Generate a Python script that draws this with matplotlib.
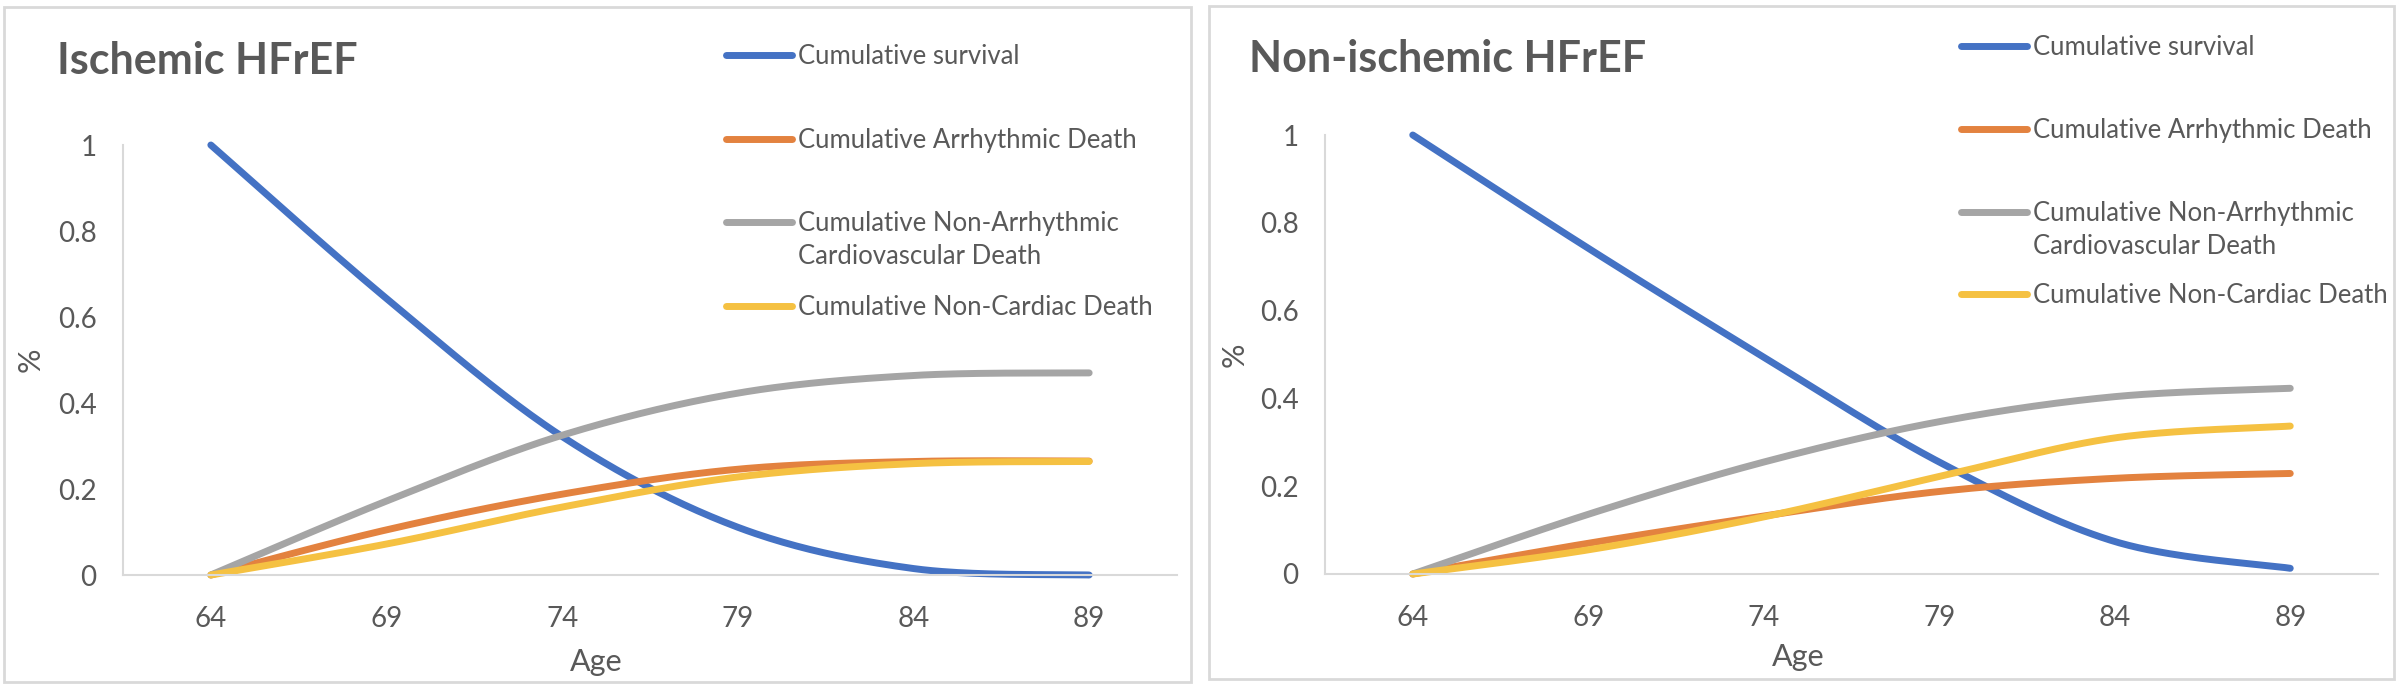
import numpy as np
import matplotlib
matplotlib.use('Agg')
import matplotlib.pyplot as plt
from matplotlib.patches import Rectangle
from matplotlib.lines import Line2D

plt.rcParams['font.family'] = ['Lato', 'DejaVu Sans']

ages = [64, 69, 74, 79, 84, 89]
series_names = ['Cumulative survival', 'Cumulative Arrhythmic Death',
                'Cumulative Non-Arrhythmic\nCardiovascular Death', 'Cumulative Non-Cardiac Death']
colors = ['#4472C4', '#E3823F', '#A5A5A5', '#F5C142']

# Ischemic HFrEF
isch_survival = [1.0, 0.643, 0.322, 0.111, 0.015, 0.0]
isch_arrhythmic = [0.0, 0.105, 0.188, 0.246, 0.264, 0.265]
isch_non_arrhythmic_cv = [0.0, 0.172, 0.325, 0.423, 0.464, 0.47]
isch_non_cardiac = [0.0, 0.072, 0.158, 0.228, 0.259, 0.264]

# Non-ischemic HFrEF
nonisch_survival = [1.0, 0.742, 0.494, 0.255, 0.074, 0.013]
nonisch_arrhythmic = [0.0, 0.070, 0.132, 0.188, 0.218, 0.229]
nonisch_non_arrhythmic_cv = [0.0, 0.136, 0.255, 0.347, 0.404, 0.423]
nonisch_non_cardiac = [0.0, 0.055, 0.130, 0.222, 0.310, 0.337]

W, H = 2400, 688
TXT = '#595959'
AXC = '#D9D9D9'
LW = 5.0


def smooth(y, n=40):
    # excel style smoothed line (bezier with catmull-rom control points)
    y = np.asarray(y, float)
    x = np.arange(len(y), dtype=float)
    px = np.concatenate([[x[0]], x, [x[-1]]])
    py = np.concatenate([[y[0]], y, [y[-1]]])
    xs, ys = [], []
    t = np.linspace(0, 1, n)
    for i in range(len(y) - 1):
        p0 = np.array([px[i], py[i]])
        p1 = np.array([px[i + 1], py[i + 1]])
        p2 = np.array([px[i + 2], py[i + 2]])
        p3 = np.array([px[i + 3], py[i + 3]])
        c1 = p1 + (p2 - p0) / 6
        c2 = p2 - (p3 - p1) / 6
        b = ((1 - t) ** 3)[:, None] * p1 + (3 * (1 - t) ** 2 * t)[:, None] * c1 \
            + (3 * (1 - t) * t ** 2)[:, None] * c2 + (t ** 3)[:, None] * p2
        xs.append(b[:, 0])
        ys.append(b[:, 1])
    return np.concatenate(xs), np.concatenate(ys)


fig = plt.figure(figsize=(W / 100, H / 100), dpi=100)


def box(x0, y0, x1, y1):
    fig.patches.append(Rectangle((x0 / W, 1 - y1 / H), (x1 - x0) / W, (y1 - y0) / H,
                                 transform=fig.transFigure, fill=False,
                                 edgecolor=AXC, lw=2))


def panel(rect, title, title_xy, data, leg_x, leg_rows, age_xy, pct_xy):
    l, t, r, b = rect
    ax = fig.add_axes([l / W, 1 - b / H, (r - l) / W, (b - t) / H])
    for vals, c in zip(data, colors):
        xs, ys = smooth(vals)
        ax.plot(xs, ys, color=c, lw=LW, solid_capstyle='round', clip_on=False)
    ax.set_xlim(-0.5, len(ages) - 0.5)
    ax.set_ylim(0, 1)
    ax.set_xticks(range(len(ages)))
    ax.set_xticklabels([str(a) for a in ages])
    ax.set_yticks([0, 0.2, 0.4, 0.6, 0.8, 1.0])
    ax.set_yticklabels(['0', '0.2', '0.4', '0.6', '0.8', '1'])
    ax.tick_params(length=0, labelsize=20, labelcolor=TXT)
    ax.tick_params(axis='y', pad=19)
    ax.tick_params(axis='x', pad=22)
    for s in ['top', 'right']:
        ax.spines[s].set_visible(False)
    for s in ['left', 'bottom']:
        ax.spines[s].set_color(AXC)
        ax.spines[s].set_linewidth(1.5)

    fig.text(title_xy[0] / W, 1 - title_xy[1] / H, title, fontsize=31,
             fontweight='bold', color=TXT, va='center', ha='left')
    fig.text(age_xy[0] / W, 1 - age_xy[1] / H, 'Age', fontsize=22, color=TXT,
             ha='center', va='center')
    fig.text(pct_xy[0] / W, 1 - pct_xy[1] / H, '%', fontsize=22, color=TXT,
             ha='center', va='center', rotation=90)

    # legend: handle on the first text line, extra lines below it
    for name, c, ry in zip(series_names, colors, leg_rows):
        fig.add_artist(Line2D([leg_x[0] / W, leg_x[1] / W], [1 - ry / H, 1 - ry / H],
                              transform=fig.transFigure, color=c, lw=LW,
                              solid_capstyle='round'))
        for k, part in enumerate(name.split('\n')):
            fig.text(leg_x[2] / W, 1 - (ry + 9 + 33 * k) / H, part, fontsize=18.5,
                     color=TXT, ha='left', va='baseline')
    return ax


box(4, 7, 1191, 682)
box(1209, 6, 2394, 679)

panel((123, 145, 1177, 575), 'Ischemic HFrEF', (57, 61),
      [isch_survival, isch_arrhythmic, isch_non_arrhythmic_cv, isch_non_cardiac],
      (726, 792, 798), [55, 139, 222, 306], (596, 662), (31, 360))
panel((1325, 135, 2378, 574), 'Non-ischemic HFrEF', (1249, 59),
      [nonisch_survival, nonisch_arrhythmic, nonisch_non_arrhythmic_cv, nonisch_non_cardiac],
      (1961, 2027, 2033), [46, 129, 212, 294], (1798, 657), (1235, 355))

fig.savefig('out.png', dpi=100, facecolor='white')
